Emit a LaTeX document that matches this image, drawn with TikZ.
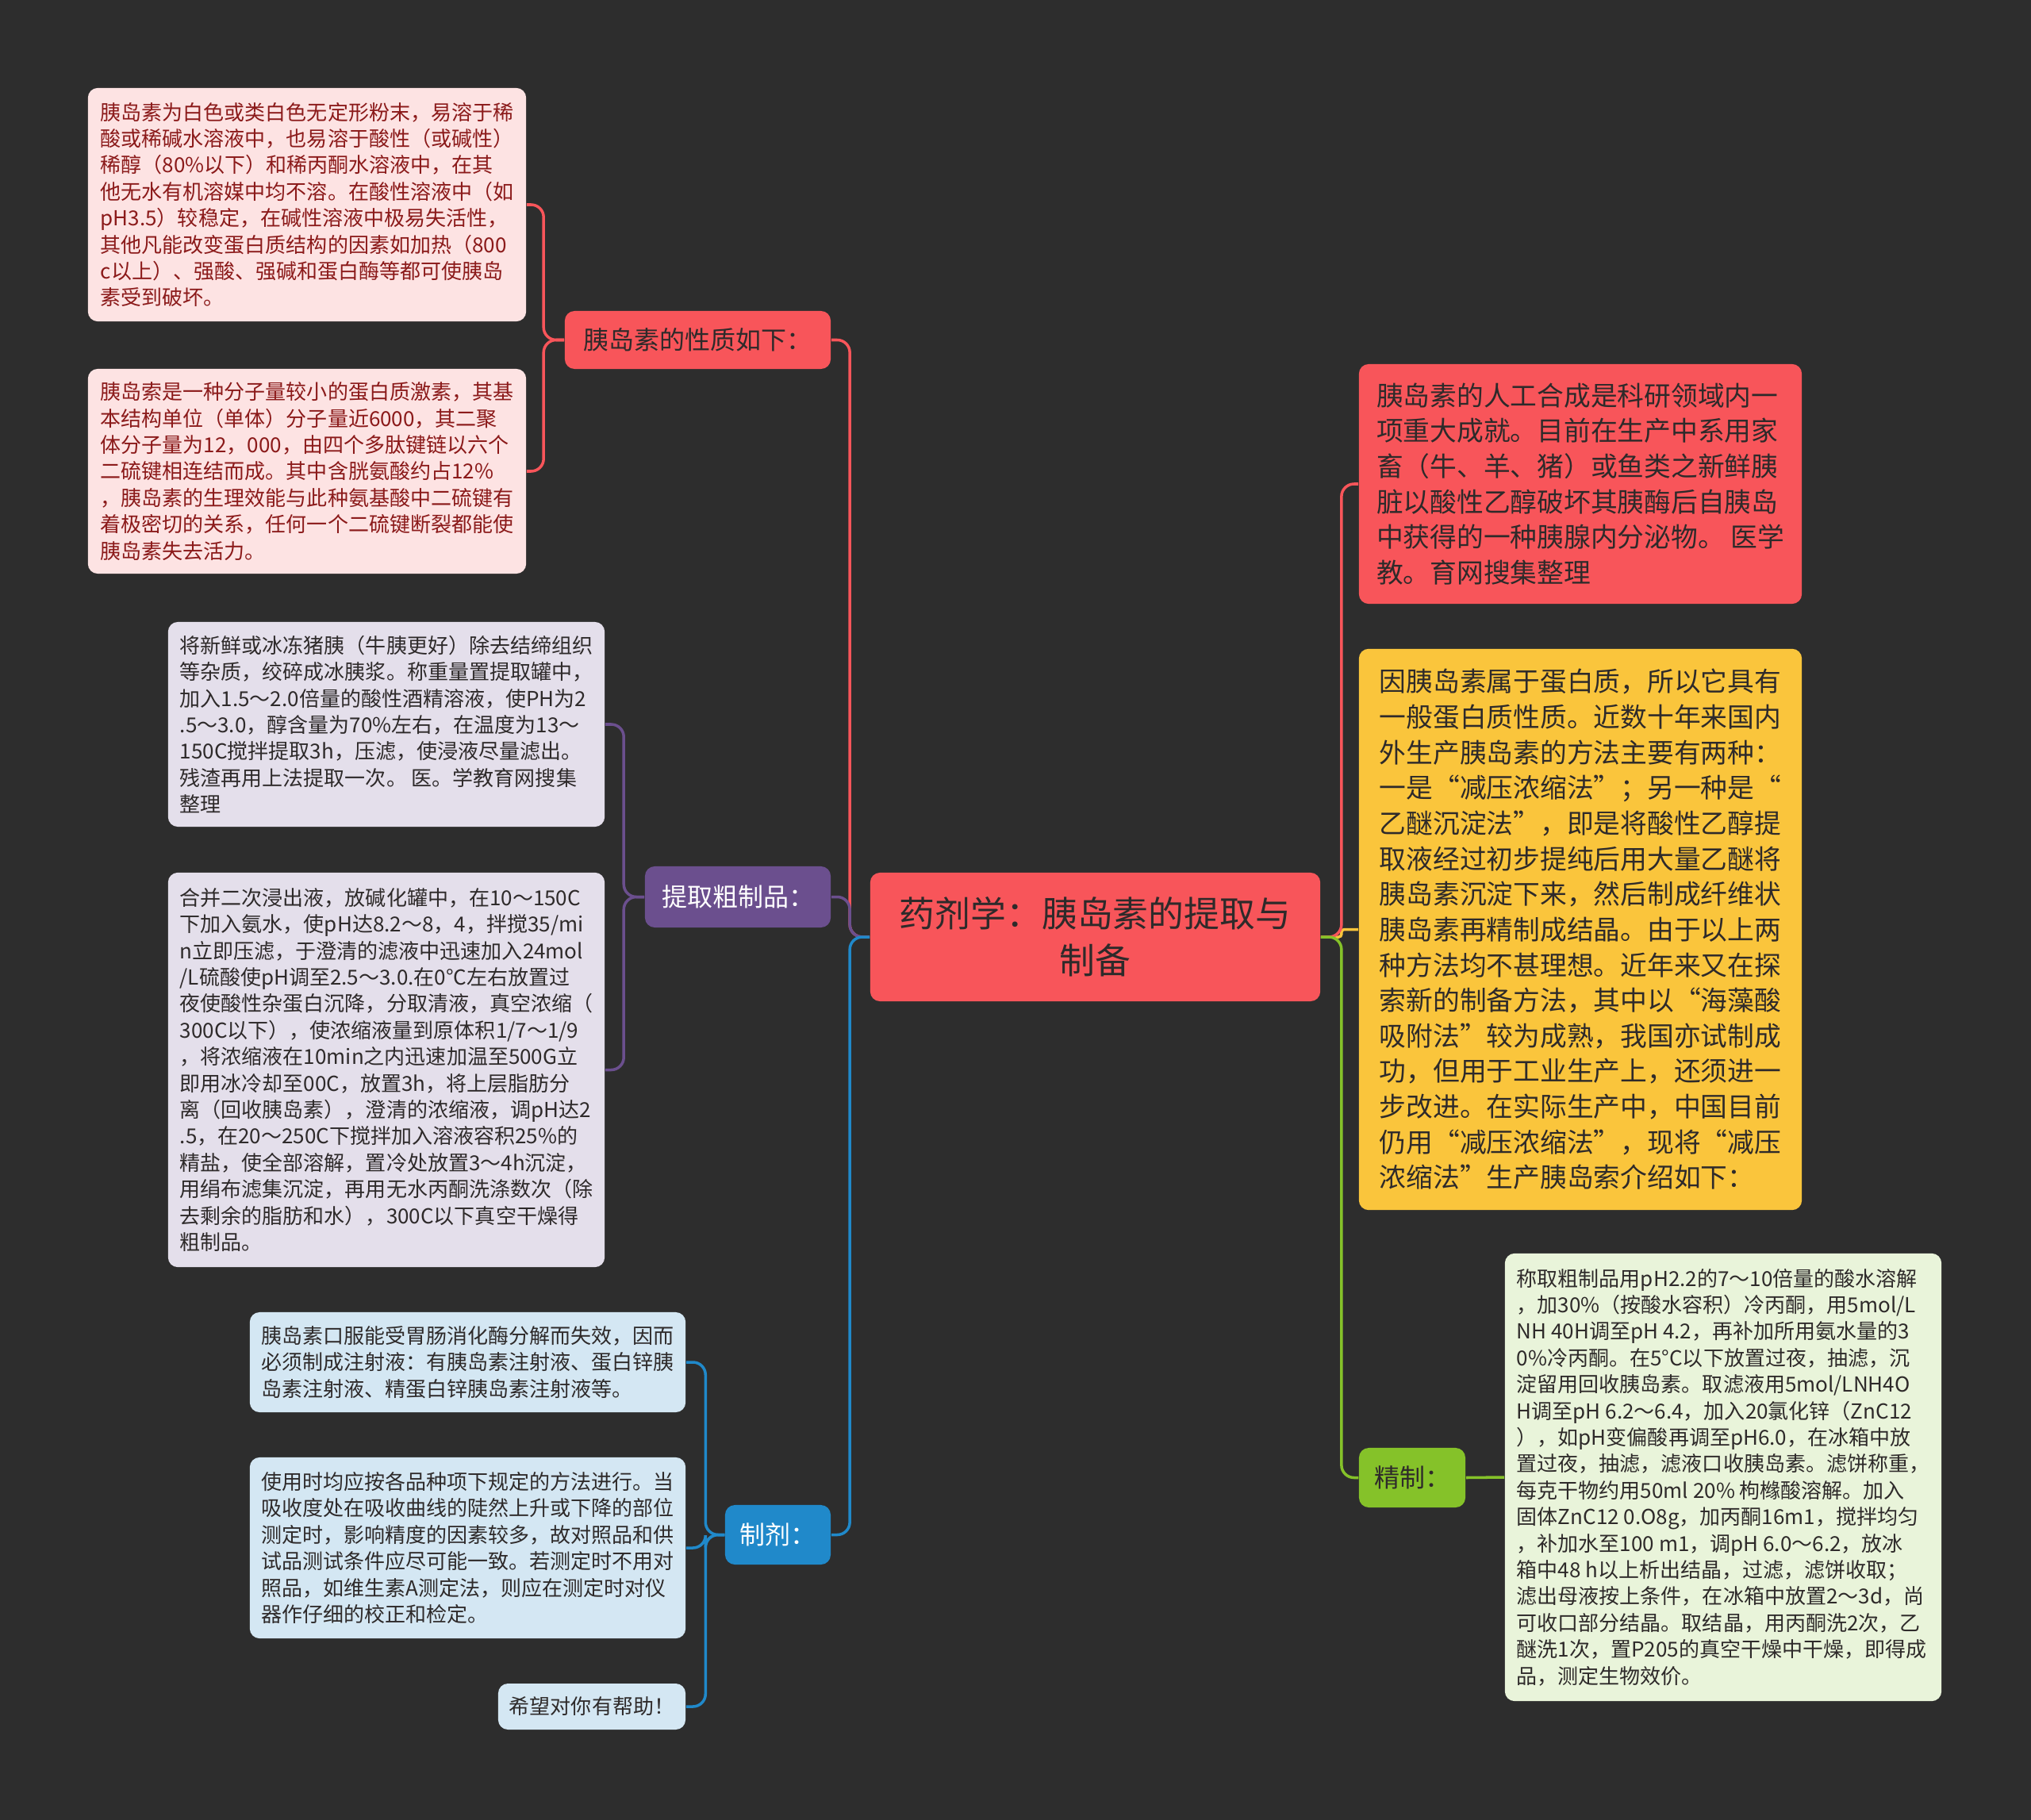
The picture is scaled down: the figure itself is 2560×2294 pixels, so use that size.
\documentclass[tikz,border=0pt]{standalone}
\usepackage{fontspec}
\setmainfont{Noto Sans CJK SC}
\usepackage{xcolor}
\usepackage{tikz}
\definecolor{MapBack}{HTML}{2D2D2D}
\definecolor{MapRed}{HTML}{F8555A}
\definecolor{MapPurple}{HTML}{6B4F8E}
\definecolor{MapBlue}{HTML}{2089CA}
\definecolor{MapGreen}{HTML}{85C229}
\definecolor{MapYellow}{HTML}{FAC53C}
\definecolor{MapPink}{HTML}{FDE3E3}
\definecolor{MapLavender}{HTML}{E4DFEB}
\definecolor{MapSky}{HTML}{D4E7F3}
\definecolor{MapMint}{HTML}{E9F4DA}
\definecolor{MapInk}{HTML}{2E2A2A}
\definecolor{MapWine}{HTML}{8B1A1A}

\begin{document}
\begin{tikzpicture}[x=0.01cm,y=-0.01cm,
  every node/.style={inner sep=0pt},
  leafbox/.style={rounded corners=3.5pt,align=left,text=MapInk,
    font=\fontsize{7.4pt}{9.5pt}\selectfont},
  bigbox/.style={rounded corners=3.5pt,align=left,text=MapInk,
    font=\fontsize{9.6pt}{12.7pt}\selectfont},
  topicbox/.style={rounded corners=3.5pt,font=\fontsize{9.1pt}{11pt}\selectfont},
  link/.style={line width=1pt,rounded corners=4.5pt}]
  \fill[MapBack] (0,0) rectangle (2560,2294);
  \useasboundingbox (0,0) rectangle (2560,2294);

  % centre
  \node[rounded corners=3.5pt,fill=MapRed,text=MapInk,align=center,
    font=\fontsize{12.75pt}{16.8pt}\selectfont,
    minimum width=5.67cm,minimum height=1.62cm] (root) at (1380.5,1181)
    {药剂学：胰岛素的提取与\\制备};

  % left topics
  \node[topicbox,fill=MapRed,text=MapInk,minimum width=3.35cm,minimum height=0.73cm]
    (props) at (879.5,428.5) {胰岛素的性质如下：};
  \node[topicbox,fill=MapPurple,text=white,minimum width=2.34cm,minimum height=0.77cm]
    (extract) at (930,1130.5) {提取粗制品：};
  \node[topicbox,fill=MapBlue,text=white,minimum width=1.33cm,minimum height=0.75cm]
    (dosage) at (980.5,1934.5) {制剂：};

  % right topics
  \node[bigbox,fill=MapRed,minimum width=5.58cm,minimum height=3.02cm] (synth) at (1992,610)
    {胰岛素的人工合成是科研领域内一\\
     项重大成就。目前在生产中系用家\\
     畜（牛、羊、猪）或鱼类之新鲜胰\\
     脏以酸性乙醇破坏其胰酶后自胰岛\\
     中获得的一种胰腺内分泌物。 医学\\
     教。育网搜集整理};
  \node[bigbox,fill=MapYellow,minimum width=5.58cm,minimum height=7.07cm] (methods) at (1992,1171.5)
    {因胰岛素属于蛋白质，所以它具有\\
     一般蛋白质性质。近数十年来国内\\
     外生产胰岛素的方法主要有两种：\\
     一是“减压浓缩法”；另一种是“\\
     乙醚沉淀法”，即是将酸性乙醇提\\
     取液经过初步提纯后用大量乙醚将\\
     胰岛素沉淀下来，然后制成纤维状\\
     胰岛素再精制成结晶。由于以上两\\
     种方法均不甚理想。近年来又在探\\
     索新的制备方法，其中以“海藻酸\\
     吸附法”较为成熟，我国亦试制成\\
     功，但用于工业生产上，还须进一\\
     步改进。在实际生产中，中国目前\\
     仍用“减压浓缩法”，现将“减压\\
     浓缩法”生产胰岛索介绍如下：};
  \node[topicbox,fill=MapGreen,text=MapInk,minimum width=1.34cm,minimum height=0.75cm]
    (refine) at (1780,1862.5) {精制：};

  % leaves
  \node[leafbox,fill=MapPink,text=MapWine,minimum width=5.52cm,minimum height=2.94cm] (prop1) at (387,258)
    {胰岛素为白色或类白色无定形粉末，易溶于稀\\
     酸或稀碱水溶液中，也易溶于酸性（或碱性）\\
     稀醇（80\%以下）和稀丙酮水溶液中，在其\\
     他无水有机溶媒中均不溶。在酸性溶液中（如\\
     pH3.5）较稳定，在碱性溶液中极易失活性，\\
     其他凡能改变蛋白质结构的因素如加热（800\\
     c以上）、强酸、强碱和蛋白酶等都可使胰岛\\
     素受到破坏。};
  \node[leafbox,fill=MapPink,text=MapWine,minimum width=5.52cm,minimum height=2.58cm] (prop2) at (387,594)
    {胰岛索是一种分子量较小的蛋白质激素，其基\\
     本结构单位（单体）分子量近6000，其二聚\\
     体分子量为12，000，由四个多肽键链以六个\\
     二硫键相连结而成。其中含胱氨酸约占12\%\\
     ，胰岛素的生理效能与此种氨基酸中二硫键有\\
     着极密切的关系，任何一个二硫键断裂都能使\\
     胰岛素失去活力。};
  \node[leafbox,fill=MapLavender,minimum width=5.5cm,minimum height=2.58cm] (ext1) at (487,913)
    {将新鲜或冰冻猪胰（牛胰更好）除去结缔组织\\
     等杂质，绞碎成冰胰浆。称重量置提取罐中，\\
     加入1.5～2.0倍量的酸性酒精溶液，使PH为2\\
     .5～3.0，醇含量为70\%左右，在温度为13～\\
     150C搅拌提取3h，压滤，使浸液尽量滤出。\\
     残渣再用上法提取一次。 医。学教育网搜集\\
     整理};
  \node[leafbox,fill=MapLavender,minimum width=5.5cm,minimum height=4.97cm] (ext2) at (487,1348.5)
    {合并二次浸出液，放碱化罐中，在10～150C\\
     下加入氨水，使pH达8.2～8，4，拌搅35/mi\\
     n立即压滤，于澄清的滤液中迅速加入24mol\\
     /L硫酸使pH调至2.5～3.0.在0°C左右放置过\\
     夜使酸性杂蛋白沉降，分取清液，真空浓缩（\\
     300C以下），使浓缩液量到原体积1/7～1/9\\
     ，将浓缩液在10min之内迅速加温至500G立\\
     即用冰冷却至00C，放置3h，将上层脂肪分\\
     离（回收胰岛素），澄清的浓缩液，调pH达2\\
     .5，在20～250C下搅拌加入溶液容积25\%的\\
     精盐，使全部溶解，置冷处放置3～4h沉淀，\\
     用绢布滤集沉淀，再用无水丙酮洗涤数次（除\\
     去剩余的脂肪和水），300C以下真空干燥得\\
     粗制品。};
  \node[leafbox,fill=MapSky,minimum width=5.49cm,minimum height=1.26cm] (dos1) at (589.5,1717)
    {胰岛素口服能受胃肠消化酶分解而失效，因而\\
     必须制成注射液：有胰岛素注射液、蛋白锌胰\\
     岛素注射液、精蛋白锌胰岛素注射液等。};
  \node[leafbox,fill=MapSky,minimum width=5.49cm,minimum height=2.28cm] (dos2) at (589.5,1951)
    {使用时均应按各品种项下规定的方法进行。当\\
     吸收度处在吸收曲线的陡然上升或下降的部位\\
     测定时，影响精度的因素较多，故对照品和供\\
     试品测试条件应尽可能一致。若测定时不用对\\
     照品，如维生素A测定法，则应在测定时对仪\\
     器作仔细的校正和检定。};
  \node[leafbox,fill=MapSky,minimum width=2.36cm,minimum height=0.58cm] (dos3) at (746,2151)
    {希望对你有帮助！};
  \node[leafbox,fill=MapMint,minimum width=5.5cm,minimum height=5.64cm] (ref1) at (2172,1862)
    {称取粗制品用pH2.2的7～10倍量的酸水溶解\\
     ，加30\%（按酸水容积）冷丙酮，用5mol/L\\
     NH 40H调至pH 4.2，再补加所用氨水量的3\\
     0\%冷丙酮。在5°C以下放置过夜，抽滤，沉\\
     淀留用回收胰岛素。取滤液用5mol/LNH4O\\
     H调至pH 6.2～6.4，加入20氯化锌（ZnC12\\
     ），如pH变偏酸再调至pH6.0，在冰箱中放\\
     置过夜，抽滤，滤液口收胰岛素。滤饼称重，\\
     每克干物约用50ml 20\% 枸橼酸溶解。加入\\
     固体ZnC12 0.O8g，加丙酮16m1，搅拌均匀\\
     ，补加水至100 m1，调pH 6.0～6.2，放冰\\
     箱中48 h以上析出结晶，过滤，滤饼收取；\\
     滤出母液按上条件，在冰箱中放置2～3d，尚\\
     可收口部分结晶。取结晶，用丙酮洗2次，乙\\
     醚洗1次，置P205的真空干燥中干燥，即得成\\
     品，测定生物效价。};

  % connectors
  \draw[link,MapRed] (root.west) -- ++(-25,0) |- (props.east);
  \draw[link,MapPurple] (root.west) -- ++(-25,0) |- (extract.east);
  \draw[link,MapBlue] (root.west) -- ++(-25,0) |- (dosage.east);
  \draw[link,MapYellow,rounded corners=1pt] (root.east) -- ++(26,0) |- (methods.west);
  \draw[link,MapRed] (root.east) -- ++(26,0) |- (synth.west);
  \draw[link,MapGreen] (root.east) -- ++(26,0) |- (refine.west);
  \draw[link,MapRed] (props.west) -- ++(-26,0) |- (prop1.east);
  \draw[link,MapRed] (props.west) -- ++(-26,0) |- (prop2.east);
  \draw[link,MapPurple] (extract.west) -- ++(-26,0) |- (ext1.east);
  \draw[link,MapPurple] (extract.west) -- ++(-26,0) |- (ext2.east);
  \draw[link,MapBlue] (dosage.west) -- ++(-24,0) |- (dos1.east);
  \draw[link,MapBlue] (dosage.west) -- ++(-24,0) |- (dos2.east);
  \draw[link,MapBlue] (dosage.west) -- ++(-24,0) |- (dos3.east);
  \draw[link,MapGreen] (refine.east) -- (ref1.west);
\end{tikzpicture}
\end{document}
